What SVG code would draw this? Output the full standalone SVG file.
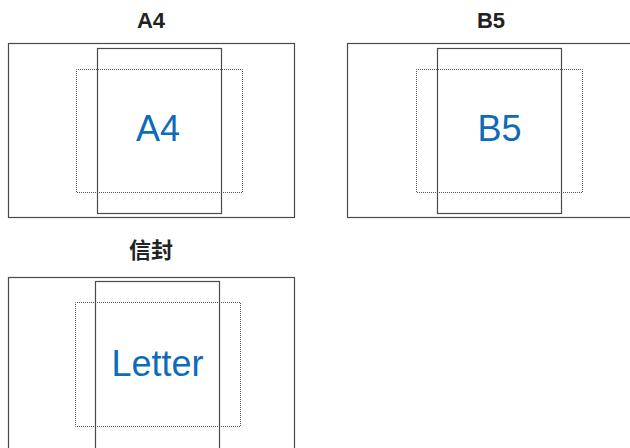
<svg xmlns="http://www.w3.org/2000/svg" width="630" height="448" viewBox="0 0 630 448">
<style>
.frame{fill:none;stroke:#4a4a4a;stroke-width:1.2}
.page{fill:none;stroke:#4a4a4a;stroke-width:1.2}
.dot{fill:none;stroke:#555;stroke-width:1;stroke-dasharray:1 1;stroke-dashoffset:0.5}
.title{font-family:"Liberation Sans","Noto Sans CJK SC",Arial,sans-serif;font-weight:bold;font-size:22px;fill:#222;text-anchor:middle}
.cjk{font-family:"Noto Sans CJK SC","Liberation Sans",sans-serif;font-weight:bold;font-size:22px;fill:#222;text-anchor:middle}
.big{font-family:"Liberation Sans",Arial,sans-serif;font-size:36px;fill:#0e6bb8;text-anchor:middle}
</style>
<rect width="630" height="448" fill="#fff"/>
<g id="a4">
<text class="title" x="151" y="27.5">A4</text>
<rect class="frame" x="8.5" y="43.5" width="286" height="174"/>
<rect class="dot" x="76.5" y="69.5" width="166" height="123"/>
<rect class="page" x="97.5" y="48.5" width="124" height="165"/>
<text class="big" x="158" y="141">A4</text>
</g>
<g id="b5">
<text class="title" x="491" y="27.5">B5</text>
<rect class="frame" x="347.5" y="43.5" width="300" height="174"/>
<rect class="dot" x="416.5" y="69.5" width="166" height="123"/>
<rect class="page" x="437.5" y="48.5" width="124" height="165"/>
<text class="big" x="499.5" y="141">B5</text>
</g>
<g id="letter">
<text class="cjk" x="151" y="258">信封</text>
<rect class="frame" x="8.5" y="277.5" width="286" height="200"/>
<rect class="dot" x="75.5" y="302.5" width="165" height="124"/>
<rect class="page" x="95.5" y="281.5" width="124" height="200"/>
<text class="big" x="157.5" y="375.5">Letter</text>
</g>
<g id="connectors"/>
</svg>
